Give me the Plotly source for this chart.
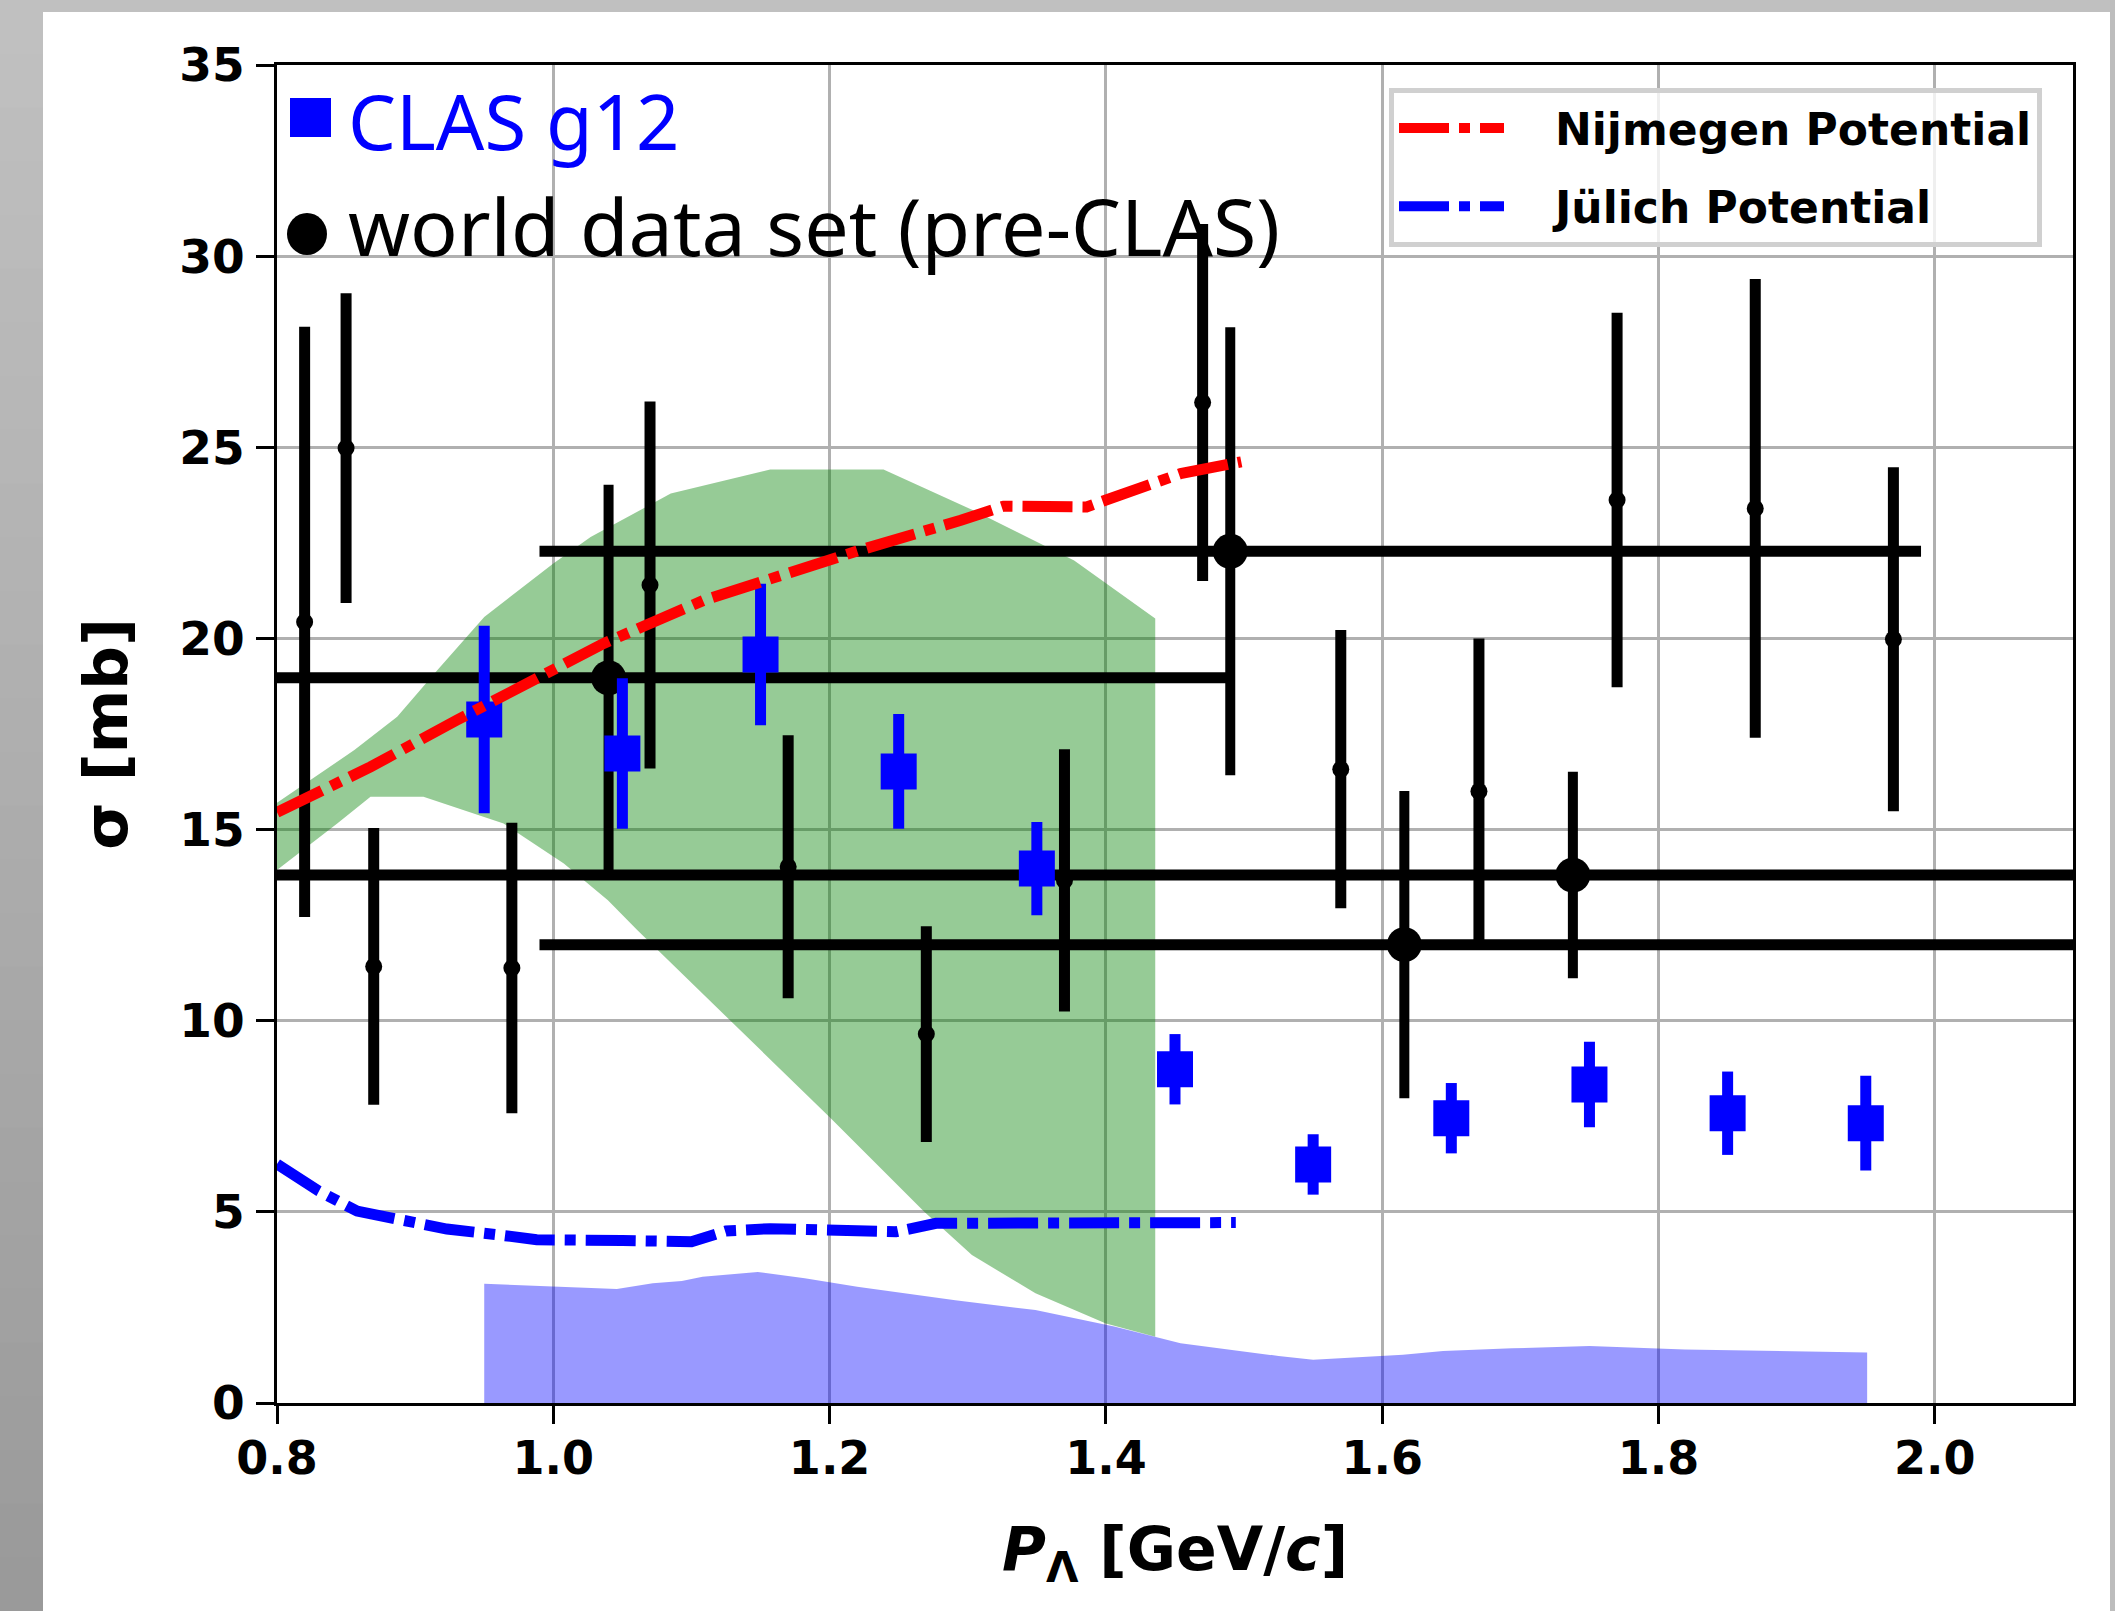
import plotly.graph_objects as go

# ---------------- data ----------------
# CLAS g12 measurements
clas_x = [0.95, 1.05, 1.15, 1.25, 1.35, 1.45, 1.55, 1.65, 1.75, 1.85, 1.95]
clas_y = [17.88, 16.99, 19.58, 16.52, 13.98, 8.73, 6.24, 7.45, 8.33, 7.58, 7.32]
clas_err = [2.45, 1.97, 1.85, 1.5, 1.22, 0.92, 0.79, 0.92, 1.12, 1.09, 1.24]

# world data set (pre-CLAS), points without momentum bins
world_x = [0.82, 0.85, 0.87, 0.97, 1.07, 1.17, 1.27, 1.37, 1.47, 1.57, 1.67, 1.77, 1.87, 1.97]
world_y = [20.43, 24.98, 11.42, 11.38, 21.4, 14.03, 9.65, 13.67, 26.17, 16.58, 16.0, 23.62, 23.4, 19.98]
world_err = [7.72, 4.05, 3.62, 3.8, 4.8, 3.44, 2.82, 3.43, 4.67, 3.64, 4.0, 4.9, 6.0, 4.5]

# world data set, points with wide momentum bins
wide_x = [1.04, 1.49, 1.616, 1.738]
wide_y = [18.97, 22.28, 11.99, 13.81]
wide_yerr = [5.05, 5.86, 4.02, 2.7]
wide_xerr = [0.45, 0.5, 0.626, 1.0]

# theory curves
nij_x = [0.80, 0.8677, 0.93, 0.988, 1.0365, 1.109, 1.157, 1.222, 1.295, 1.326, 1.386, 1.415, 1.454, 1.498]
nij_y = [15.45, 16.64, 17.86, 18.99, 19.87, 21.0, 21.57, 22.31, 23.09, 23.46, 23.44, 23.83, 24.31, 24.62]

jul_x = [0.80, 0.83, 0.858, 0.89, 0.923, 0.96, 0.988, 1.05, 1.10, 1.125, 1.157, 1.248, 1.263, 1.277, 1.494]
jul_y = [6.25, 5.55, 5.02, 4.78, 4.55, 4.40, 4.27, 4.25, 4.22, 4.50, 4.56, 4.48, 4.61, 4.70, 4.72]

# green uncertainty band (upper and lower edges)
band_up_x = [0.80, 0.856, 0.887, 0.916, 0.95, 1.0, 1.027, 1.085, 1.157, 1.239, 1.304, 1.355, 1.377, 1.4357]
band_up_y = [15.7, 17.08, 17.95, 19.17, 20.56, 21.96, 22.65, 23.79, 24.42, 24.42, 23.35, 22.44, 22.04, 20.52]
band_lo_x = [0.80, 0.8436, 0.8677, 0.906, 0.964, 1.0076, 1.0395, 1.0607, 1.128, 1.1997, 1.2685, 1.303, 1.349, 1.40, 1.4357]
band_lo_y = [13.94, 15.16, 15.86, 15.86, 15.16, 14.11, 13.15, 12.37, 10.0, 7.49, 5.0, 3.87, 2.87, 2.08, 1.73]

# systematic uncertainty band of CLAS g12
sys_x = [0.95, 0.99, 1.046, 1.072, 1.093, 1.108, 1.148, 1.182, 1.22, 1.291, 1.349, 1.406, 1.454,
         1.525, 1.55, 1.615, 1.644, 1.694, 1.75, 1.819, 1.945, 1.951]
sys_y = [3.12, 3.06, 2.98, 3.13, 3.19, 3.30, 3.43, 3.26, 3.04, 2.69, 2.43, 2.0, 1.56,
         1.23, 1.13, 1.26, 1.36, 1.43, 1.49, 1.40, 1.32, 1.32]

x_ticks = [0.8, 1.0, 1.2, 1.4, 1.6, 1.8, 2.0]
y_ticks = [0, 5, 10, 15, 20, 25, 30, 35]

# ---------------- layout geometry ----------------
W, H = 2115, 1611
ML, MR, MT, MB = 277, 42, 65, 208
PW = W - ML - MR
PH = H - MT - MB


def px(x):
    return (x - ML) / PW


def py(y):
    return (H - MB - y) / PH


fig = go.Figure()

# green band
fig.add_trace(go.Scatter(
    x=band_up_x + band_lo_x[::-1], y=band_up_y + band_lo_y[::-1],
    fill="toself", fillcolor="rgba(0,128,0,0.41)", mode="lines",
    line=dict(width=0), hoverinfo="skip", showlegend=False))

# systematic band
fig.add_trace(go.Scatter(
    x=sys_x, y=sys_y, fill="tozeroy", fillcolor="rgba(0,0,255,0.40)", mode="lines",
    line=dict(width=0), hoverinfo="skip", showlegend=False))

# world data (narrow)
fig.add_trace(go.Scatter(
    x=world_x, y=world_y, mode="markers",
    marker=dict(symbol="circle", size=17, color="black"),
    error_y=dict(type="data", array=world_err, color="black", thickness=11, width=0),
    showlegend=False))

# world data (wide bins)
fig.add_trace(go.Scatter(
    x=wide_x, y=wide_y, mode="markers",
    marker=dict(symbol="circle", size=35, color="black"),
    error_y=dict(type="data", array=wide_yerr, color="black", thickness=10, width=0),
    error_x=dict(type="data", array=wide_xerr, color="black", thickness=11, width=0),
    showlegend=False))

# CLAS g12
fig.add_trace(go.Scatter(
    x=clas_x, y=clas_y, mode="markers",
    marker=dict(symbol="square", size=36, color="blue", line=dict(width=0)),
    error_y=dict(type="data", array=clas_err, color="blue", thickness=11, width=0),
    showlegend=False))

dash = "50px,10px,11px,10px"
fig.add_trace(go.Scatter(
    x=nij_x, y=nij_y, mode="lines", name="\u00a0\u00a0\u00a0Nijmegen Potential",
    line=dict(color="red", width=11, dash=dash), legendgroup="a"))
fig.add_trace(go.Scatter(
    x=jul_x, y=jul_y, mode="lines", name="\u00a0\u00a0\u00a0Jülich Potential",
    line=dict(color="blue", width=11, dash=dash), legendgroup="b"))

# ---------------- background decoration ----------------
shapes = []
# top and right gray strips
shapes.append(dict(type="rect", xref="paper", yref="paper", x0=px(0), x1=px(W), y0=py(0), y1=py(12),
                   fillcolor="#c0c0c0", line=dict(width=0), layer="below"))
shapes.append(dict(type="rect", xref="paper", yref="paper", x0=px(2110), x1=px(W), y0=py(0), y1=py(H),
                   fillcolor="#bdbdbd", line=dict(width=0), layer="below"))
# left gradient strip
n = 30
for i in range(n):
    t = i / (n - 1)
    c = int(round(192 - t * (192 - 154)))
    shapes.append(dict(type="rect", xref="paper", yref="paper",
                       x0=px(0), x1=px(43), y0=py(H * i / n), y1=py(H * (i + 1) / n + 1),
                       fillcolor=f"rgb({c},{c},{c})", line=dict(width=0), layer="below"))
# marker glyphs in the text labels
shapes.append(dict(type="rect", xref="paper", yref="paper", x0=px(290), x1=px(331), y0=py(137), y1=py(98),
                   fillcolor="blue", line=dict(width=0)))
shapes.append(dict(type="circle", xref="paper", yref="paper", x0=px(287), x1=px(327), y0=py(255), y1=py(213),
                   fillcolor="black", line=dict(width=0)))

annotations = [
    dict(text="CLAS g12", xref="paper", yref="paper", x=px(346), y=py(120), xanchor="left", yanchor="middle",
         showarrow=False, font=dict(family="Noto Sans", size=76, color="blue")),
    dict(text="world data set (pre-CLAS)", xref="paper", yref="paper", x=px(346), y=py(226),
         xanchor="left", yanchor="middle", showarrow=False,
         font=dict(family="Noto Sans", size=79, color="black")),
]

axis_common = dict(
    showgrid=True, gridcolor="#b0b0b0", gridwidth=3,
    showline=True, linecolor="black", linewidth=3, mirror=True,
    ticks="outside", ticklen=18, tickwidth=3, tickcolor="black",
    zeroline=False,
)

fig.update_layout(
    width=W, height=H,
    margin=dict(l=ML, r=MR, t=MT, b=MB, autoexpand=False),
    paper_bgcolor="white", plot_bgcolor="white",
    shapes=shapes, annotations=annotations,
    showlegend=True,
    legend=dict(x=px(1389), y=py(88), xanchor="left", yanchor="top",
                bgcolor="rgba(255,255,255,0.8)", bordercolor="#d0d0d0", borderwidth=5,
                font=dict(family="DejaVu Sans", size=44, color="black", weight="bold"),
                itemwidth=105, traceorder="grouped", tracegroupgap=18),
    xaxis=dict(range=[0.8, 2.1], tickvals=x_ticks, ticktext=[f"{v:.1f}" for v in x_ticks],
               ticklabelstandoff=-5,
               tickfont=dict(family="DejaVu Sans", size=46, color="black", weight="bold"),
               title=dict(text="<i>P</i><sub>Λ</sub> [GeV/<i>c</i>]", standoff=44,
                          font=dict(family="DejaVu Sans", size=60, color="black", weight="bold")),
               **axis_common),
    yaxis=dict(range=[0, 35], tickvals=y_ticks, ticktext=[str(v) for v in y_ticks],
               ticklabelstandoff=2,
               tickfont=dict(family="DejaVu Sans", size=47, color="black", weight="bold"),
               title=dict(text="σ [mb]", standoff=32,
                          font=dict(family="DejaVu Sans", size=61, color="black", weight="bold")),
               **axis_common),
)

fig.write_html("out.html")
